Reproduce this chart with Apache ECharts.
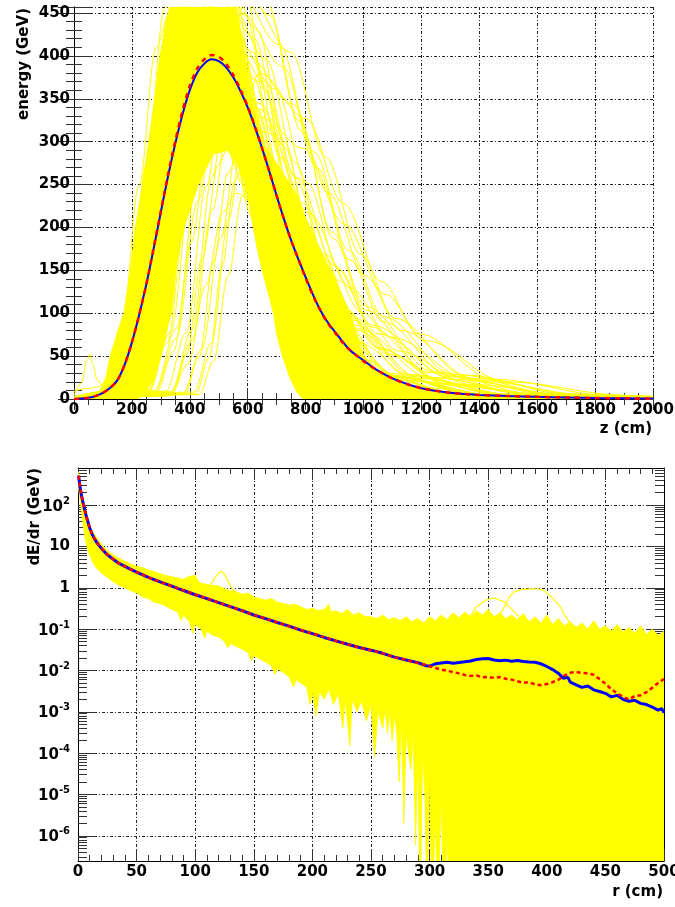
<!DOCTYPE html>
<html><head><meta charset="utf-8">
<script src="https://cdn.jsdelivr.net/npm/echarts@6/dist/echarts.min.js"></script>
<style>html,body{margin:0;padding:0;background:#fff}#c{width:675px;height:907px}</style>
</head><body><div id="c"></div>
<script>
// ---------- tick labels ----------
const zTicks = [0,200,400,600,800,1000,1200,1400,1600,1800,2000];
const energyTicks = [0,50,100,150,200,250,300,350,400,450];
const rTicks = [0,50,100,150,200,250,300,350,400,450,500];
const dEdrTicks = [1e-6,1e-5,1e-4,1e-3,1e-2,1e-1,1,10,100];
const dEdrMinor = [3e-7,4e-7,5e-7,6e-7,7e-7,8e-7,9e-7,
  2e-6,3e-6,4e-6,5e-6,6e-6,7e-6,8e-6,9e-6,
  2e-5,3e-5,4e-5,5e-5,6e-5,7e-5,8e-5,9e-5,
  2e-4,3e-4,4e-4,5e-4,6e-4,7e-4,8e-4,9e-4,
  2e-3,3e-3,4e-3,5e-3,6e-3,7e-3,8e-3,9e-3,
  0.02,0.03,0.04,0.05,0.06,0.07,0.08,0.09,
  0.2,0.3,0.4,0.5,0.6,0.7,0.8,0.9,
  2,3,4,5,6,7,8,9,20,30,40,50,60,70,80,90,200,300,400,500,600,700];

// ---------- top panel: longitudinal profiles (z [cm], energy [GeV]) ----------
const topMeanBlue = [[0,0],[25,0.5],[50,1.5],[75,3.5],[100,7],[125,13],[150,22],[175,40],[200,66],[225,98],[250,134],[275,175],[300,218],[325,260],[350,298],[375,332],[400,360],[425,380],[450,391],[475,396],[500,394],[525,387],[550,375],[575,359],[600,340],[625,317],[650,292],[675,265],[700,237],[725,210],[750,185],[775,163],[800,142],[825,122],[850,104],[875,90],[900,79],[925,68],[950,58],[975,51],[1000,45],[1050,33],[1100,24],[1150,17.5],[1200,12.5],[1250,9.5],[1300,7.2],[1350,5.8],[1400,4.7],[1500,3.4],[1600,2.5],[1700,1.8],[1800,1.2],[1900,0.8],[2000,0.5]];
const topMeanRed = [[0,0],[25,0.5],[50,1.5],[75,3.6],[100,7.2],[125,13],[150,22],[175,40],[200,66],[225,98],[250,134],[275,176],[300,219],[325,262],[350,301],[375,336],[400,365],[425,385],[450,396],[475,401],[500,399],[525,391],[550,378],[575,361],[600,341],[625,318],[650,292],[675,265],[700,237],[725,210],[750,185],[775,163],[800,141],[825,121],[850,104],[875,89],[900,78],[925,67],[950,58],[975,51],[1000,44],[1050,33],[1100,24],[1150,17.5],[1200,12.5],[1250,9.5],[1300,7.2],[1350,5.8],[1400,4.7],[1500,3.4],[1600,2.5],[1700,1.8],[1800,1.2],[1900,0.8],[2000,0.5]];
// outline of the region where the individual profiles overlap densely
const topDenseOutline = [[40,0],[60,3],[90,10],[110,25],[125,50],[150,78],[172,100],[195,150],[212,200],[236,250],[258,300],[278,350],[297,400],[318,440],[332,460],[560,460],[591,400],[615,350],[650,300],[700,275],[747,250],[816,200],[885,150],[955,100],[1000,50],[1060,30],[1110,20],[1230,10],[1320,5],[1450,2],[1550,0],[790,0],[770,8],[745,25],[720,50],[700,75],[689,100],[650,150],[620,200],[600,240],[570,270],[530,290],[480,285],[430,250],[380,200],[350,150],[335,100],[300,50],[270,20],[240,5],[220,0]];
const topShowers = [
 [[0,1],[104,9],[164,77],[224,248],[284,410],[330,450],[460,387],[565,270],[670,162],[775,90],[985,27],[1300,5],[1695,1.4],[2000,0.5]],
 [[0,1],[127,10],[189,85],[251,275],[313,455],[360,500],[478,430],[573,300],[668,180],[763,100],[953,30],[1238,6],[1595,1.5],[2000,0.4]],
 [[0,1],[117,9],[187,80],[257,259],[327,428],[380,470],[504,404],[604,282],[704,169],[804,94],[1004,28],[1304,5.6],[1680,1.4],[2000,0.5]],
 [[0,1],[137,10],[207,88],[277,286],[347,473],[400,520],[518,447],[613,312],[708,187],[803,104],[993,31],[1278,6.2],[1635,1.6],[2000,0.5]],
 [[0,1],[138,10],[213,82],[288,264],[363,437],[420,480],[544,413],[644,288],[744,173],[844,96],[1044,29],[1344,5.8],[1720,1.4],[2000,0.5]],
 [[0,1],[159,11],[231,92],[303,297],[375,491],[430,540],[542,464],[632,324],[722,194],[812,108],[992,32],[1262,6.5],[1600,1.6],[2000,0.5]],
 [[0,1],[139,9],[219,73],[299,237],[379,391],[440,430],[570,370],[675,258],[780,155],[885,86],[1095,26],[1410,5.2],[1805,1.3],[2000,0.8]],
 [[0,1],[157,10],[235,85],[313,275],[391,455],[450,500],[568,430],[663,300],[758,180],[853,100],[1043,30],[1328,6],[1685,1.5],[2000,0.5]],
 [[0,1],[152,9],[234,78],[316,253],[398,419],[460,460],[584,396],[684,276],[784,166],[884,92],[1084,28],[1384,5.5],[1760,1.4],[2000,0.6]],
 [[0,1],[150,8],[235,70],[320,226],[405,373],[470,410],[600,353],[705,246],[810,148],[915,82],[1125,25],[1440,4.9],[1835,1.2],[2000,0.8]],
 [[0,1],[179,10],[259,88],[339,286],[419,473],[480,520],[592,447],[682,312],[772,187],[862,104],[1042,31],[1312,6.2],[1650,1.6],[2000,0.5]],
 [[0,1],[170,9],[255,75],[340,242],[425,400],[490,440],[614,378],[714,264],[814,158],[914,88],[1114,26],[1414,5.3],[1790,1.3],[2000,0.7]],
 [[0,1],[180,9],[265,80],[350,259],[435,428],[500,470],[618,404],[713,282],[808,169],[903,94],[1093,28],[1378,5.6],[1735,1.4],[2000,0.6]],
 [[0,1],[190,8],[275,68],[360,220],[445,364],[510,400],[646,344],[756,240],[866,144],[976,80],[1196,24],[1526,4.8],[2000,1]],
 [[0,1],[219,10],[299,85],[379,275],[459,455],[520,500],[634,430],[726,300],[818,180],[910,100],[1094,30],[1370,6],[1716,1.5],[2000,0.5]],
 [[0,1],[229,9],[309,73],[389,237],[469,391],[530,430],[660,370],[765,258],[870,155],[975,86],[1185,26],[1500,5.2],[1895,1.3],[2000,1]],
 [[0,1],[258,9],[333,78],[408,253],[483,419],[540,460],[664,396],[764,276],[864,166],[964,92],[1164,28],[1464,5.5],[1840,1.4],[2000,0.9]],
 [[0,1],[278,8],[353,71],[428,231],[503,382],[560,420],[696,361],[806,252],[916,151],[1026,84],[1246,25],[1576,5],[2000,1.2]],
 [[0,1],[317,9],[387,77],[457,248],[527,410],[580,450],[723,387],[838,270],[953,162],[1068,90],[1298,27],[1643,5.4],[2000,1.5]],
 [[0,1],[337,8],[407,68],[477,220],[547,364],[600,400],[755,344],[880,240],[1005,144],[1130,80],[1380,24],[1755,4.8],[2000,1.5]],
 [[0,0.5],[376,7],[441,58],[506,187],[571,309],[620,340],[794,292],[934,204],[1074,122],[1214,68],[1494,20],[1914,4.1],[2000,3]],
 [[0,0.5],[333,6],[388,51],[443,165],[498,273],[540,300],[689,258],[809,180],[929,108],[1049,60],[1289,18],[1649,3.6],[2000,0.9]],
 [[0,0.5],[300,3],[382,6],[432,49],[482,160],[532,264],[570,290],[713,249],[828,174],[943,104],[1058,58],[1288,17],[1633,3.5],[2000,0.9]],
 [[0,0.5],[284,7],[344,56],[404,182],[464,300],[510,330],[646,284],[756,198],[866,119],[976,66],[1196,20],[1526,4],[2000,1]],
 [[0,3],[93,7],[188,61],[283,198],[378,328],[450,360],[586,310],[696,216],[806,130],[916,72],[1136,22],[1466,4.3],[2000,1]],
 [[0,2],[82,8],[172,65],[262,209],[352,346],[420,380],[525,327],[610,228],[695,137],[780,76],[950,23],[1205,4.6],[1525,1.1],[2000,0.3]],
 [[0,2],[84,7],[184,58],[284,187],[384,309],[460,340],[565,292],[650,204],[735,122],[820,68],[990,20],[1245,4.1],[1565,1],[2000,0.3]],
 [[0,1],[142,7],[232,60],[322,193],[412,319],[480,350],[579,301],[659,210],[739,126],[819,70],[979,21],[1219,4.2],[1520,1],[2000,0.3]],
 [[0,1],[118,8],[193,71],[268,231],[343,382],[400,420],[499,361],[579,252],[659,151],[739,84],[899,25],[1139,5],[1440,1.3],[2000,0.3]],
 [[0,0.5],[256,8],[321,65],[386,209],[451,346],[500,380],[661,327],[791,228],[921,137],[1051,76],[1311,23],[1701,4.6],[2000,1.2]],
 [[0,1],[177,11],[247,95],[317,308],[387,510],[440,560],[549,482],[637,336],[725,202],[813,112],[989,34],[1253,6.7],[1584,1.7],[2000,0.5]],
 [[0,1],[188,12],[263,102],[338,330],[413,546],[470,600],[575,516],[660,360],[745,216],[830,120],[1000,36],[1255,7.2],[1575,1.8],[2000,0.5]],
 [[0,4],[25,18],[45,45],[55,52],[65,40],[80,22],[100,15],[130,20],[170,50],[210,120],[250,220],[290,320],[340,400],[390,430],[440,410],[520,330],[620,210],[720,120],[820,62],[1000,18],[1300,3],[2000,0.5]],
 [[0,0.3],[421,6],[466,48],[511,154],[556,255],[590,280],[745,241],[870,168],[995,101],[1120,56],[1370,17],[1745,3.4],[2000,1]],
 [[0,1],[166,9],[231,80],[296,259],[361,428],[410,470],[534,404],[634,282],[734,169],[834,94],[1034,28],[1334,5.6],[1710,1.4],[2000,0.5]],
 [[0,1],[208,10],[283,83],[358,270],[433,446],[490,490],[620,421],[725,294],[830,176],[935,98],[1145,29],[1460,5.9],[1855,1.5],[2000,1]],
 [[0,9],[40,12],[80,14],[120,22],[170,60],[220,160],[270,280],[320,380],[370,430],[420,440],[480,410],[560,330],[660,215],[760,125],[860,68],[1060,20],[1360,4],[2000,0.5]],
 [[0,1],[278,10],[353,82],[428,264],[503,437],[560,480],[709,413],[829,288],[949,173],[1069,96],[1309,29],[1669,5.8],[2000,1.5]],
 [[0,1],[257,11],[327,92],[397,297],[467,491],[520,540],[663,464],[778,324],[893,194],[1008,108],[1238,32],[1583,6.5],[2000,1.5]],
 [[0,1],[337,9],[407,80],[477,259],[547,428],[600,470],[749,404],[869,282],[989,169],[1109,94],[1349,28],[1709,5.6],[2000,2]],
 [[0,1],[160,9],[245,73],[330,237],[415,391],[480,430],[641,370],[771,258],[901,155],[1031,86],[1291,26],[1681,5.2],[2000,1.5]],
 [[0,0.5],[414,8],[474,65],[534,209],[594,346],[640,380],[801,327],[931,228],[1061,137],[1191,76],[1451,23],[1841,4.6],[2000,3]],
 [[0,1],[239,10],[319,88],[399,286],[479,473],[540,520],[676,447],[786,312],[896,187],[1006,104],[1226,31],[1556,6.2],[2000,1.2]],
 [[0,1],[162,7],[252,61],[342,198],[432,328],[500,360],[674,310],[814,216],[954,130],[1094,72],[1374,22],[1794,4.3],[2000,2]],
 [[0,1],[149,8],[229,70],[309,226],[389,373],[450,410],[605,353],[730,246],[855,148],[980,82],[1230,25],[1605,4.9],[2000,1.2]],
 [[0,0.3],[432,5],[482,44],[532,143],[582,237],[620,260],[756,224],[866,156],[976,94],[1086,52],[1306,16],[1636,3],[2000,0.8]],
 [[0,0.3],[334,5],[394,41],[454,132],[514,218],[560,240],[684,206],[784,144],[884,86],[984,48],[1184,14],[1484,3],[2000,0.5]]
];

// ---------- bottom panel: lateral profiles (r [cm], dE/dr [GeV]) ----------
const bottomMeanBlue = [[0.5,520],[1,400],[2,250],[3,170],[4,125],[5,95],[6,72],[7,55],[8,44],[10,28],[12,20],[14,15.5],[16,12.5],[18,10.5],[20,9],[25,6.3],[30,4.9],[35,3.9],[40,3.3],[45,2.8],[50,2.4],[60,1.8],[70,1.4],[80,1.1],[90,0.86],[100,0.68],[110,0.55],[120,0.44],[130,0.35],[140,0.28],[150,0.22],[160,0.18],[170,0.145],[180,0.118],[190,0.095],[200,0.078],[210,0.063],[220,0.052],[230,0.043],[240,0.036],[250,0.031],[260,0.026],[270,0.021],[280,0.018],[290,0.0155],[297,0.013],[300,0.0128],[305,0.0145],[310,0.0152],[315,0.0158],[320,0.015],[325,0.0155],[330,0.0162],[335,0.017],[340,0.0185],[345,0.0192],[350,0.0195],[355,0.018],[360,0.0172],[365,0.0178],[370,0.0168],[375,0.0175],[380,0.0165],[385,0.016],[390,0.0158],[395,0.0145],[400,0.0125],[405,0.0105],[410,0.0085],[414,0.0065],[418,0.0068],[420,0.0052],[425,0.0045],[430,0.0039],[435,0.0042],[440,0.0034],[445,0.0031],[450,0.0028],[455,0.0023],[460,0.0025],[465,0.002],[470,0.0018],[475,0.0019],[480,0.0016],[485,0.0015],[490,0.0013],[495,0.0011],[498,0.0012],[500,0.00095]];
const bottomMeanRed = [[0.5,520],[1,400],[2,250],[3,172],[4,126],[5,96],[6,73],[7,56],[8,44],[10,28],[12,20],[14,15.6],[16,12.6],[18,10.5],[20,9.1],[25,6.4],[30,4.9],[35,3.9],[40,3.3],[45,2.8],[50,2.4],[60,1.8],[70,1.4],[80,1.1],[90,0.87],[100,0.69],[110,0.55],[120,0.44],[130,0.35],[140,0.28],[150,0.22],[160,0.18],[170,0.146],[180,0.118],[190,0.095],[200,0.078],[210,0.064],[220,0.052],[230,0.043],[240,0.036],[250,0.031],[260,0.026],[270,0.021],[280,0.018],[290,0.0152],[297,0.0135],[305,0.0115],[310,0.0105],[315,0.0098],[320,0.0092],[325,0.0085],[330,0.0078],[335,0.0074],[340,0.0076],[345,0.0068],[350,0.007],[355,0.0066],[360,0.0069],[365,0.0063],[370,0.006],[375,0.0055],[380,0.005],[385,0.0052],[390,0.0046],[395,0.0044],[400,0.0047],[405,0.0052],[410,0.006],[415,0.0075],[420,0.0088],[425,0.0092],[430,0.0087],[435,0.0085],[440,0.0079],[445,0.0062],[450,0.0048],[455,0.0035],[460,0.0028],[465,0.0023],[470,0.002],[475,0.0024],[480,0.0025],[485,0.003],[490,0.0038],[495,0.005],[500,0.0062]];
const bandUpper = [[0,650],[1,480],[2,300],[3,210],[4,155],[5,120],[6,90],[8,55],[10,34],[12,25],[15,18],[18,13.5],[20,11.5],[25,8],[30,6.3],[35,5.2],[40,4.4],[45,3.8],[50,3.3],[55,3.1],[60,2.7],[65,2.5],[70,2.2],[75,2.0],[80,1.85],[85,1.75],[90,1.6],[95,1.9],[100,2.0],[103,1.4],[105,1.3],[110,1.2],[115,1.15],[120,1.1],[125,0.95],[130,0.85],[135,0.8],[140,0.7],[145,0.75],[150,0.6],[155,0.55],[160,0.5],[165,0.55],[170,0.45],[175,0.42],[180,0.38],[185,0.4],[190,0.35],[195,0.3],[200,0.32],[205,0.28],[210,0.3],[214,0.4],[216,0.26],[220,0.28],[225,0.24],[230,0.3],[235,0.22],[240,0.25],[245,0.2],[250,0.2],[255,0.18],[260,0.22],[265,0.17],[270,0.19],[275,0.16],[280,0.2],[285,0.15],[290,0.18],[295,0.14],[300,0.2],[305,0.16],[310,0.22],[315,0.17],[320,0.25],[325,0.19],[330,0.26],[335,0.2],[340,0.28],[345,0.22],[350,0.3],[355,0.2],[360,0.25],[365,0.18],[370,0.22],[375,0.17],[380,0.24],[385,0.15],[390,0.2],[395,0.14],[400,0.22],[405,0.13],[410,0.18],[415,0.12],[420,0.15],[425,0.11],[430,0.14],[435,0.1],[440,0.16],[445,0.1],[450,0.12],[455,0.09],[460,0.13],[465,0.085],[470,0.11],[475,0.08],[480,0.12],[485,0.075],[490,0.1],[495,0.07],[500,0.09]];
const bandLower = [[0,300],[1,200],[2,120],[3,70],[4,40],[5,25],[6,16],[8,9],[10,6],[12,4.5],[15,3.2],[18,2.6],[20,2.3],[25,1.8],[30,1.4],[35,1.15],[40,1.0],[45,0.85],[50,0.75],[55,0.6],[60,0.55],[65,0.45],[70,0.42],[75,0.36],[80,0.3],[85,0.26],[88,0.16],[90,0.22],[95,0.15],[98,0.08],[100,0.13],[105,0.1],[108,0.06],[110,0.09],[115,0.07],[120,0.065],[125,0.05],[128,0.035],[130,0.045],[135,0.038],[140,0.033],[145,0.027],[148,0.017],[150,0.023],[155,0.019],[160,0.016],[165,0.013],[168,0.008],[170,0.011],[175,0.009],[180,0.007],[184,0.004],[186,0.006],[190,0.005],[195,0.004],[198,0.0015],[200,0.003],[203,0.0008],[206,0.003],[210,0.002],[214,0.0035],[218,0.0015],[222,0.0028],[226,0.0004],[228,0.002],[232,0.00015],[234,0.002],[238,0.001],[242,0.0018],[246,0.0006],[250,0.0014],[253,0.00008],[256,0.001],[260,0.0004],[262,0.0012],[264,0.0003],[266,0.001],[268,0.0002],[270,0.0008],[272,0.0003],[274,0.00002],[276,0.0006],[278,0.000002],[280,0.0003],[282,0.0001],[284,0.00004],[286,0.0003],[288,0.0000006],[290,0.00008],[292,1e-8],[294,0.0001],[296,0.00001],[298,1e-8],[300,0.00004],[302,1e-8],[305,0.000003],[307,1e-8],[310,0.00001],[312,1e-8],[315,0.000001],[317,1e-8],[500,1e-8]];
const bottomBumps = [
 [[100,1.0],[105,1.1],[110,1.0],[114,1.3],[117,1.8],[120,2.3],[122,2.5],[124,2.3],[127,1.7],[130,1.1],[134,0.8],[140,0.65]],
 [[320,0.12],[325,0.15],[330,0.14],[335,0.22],[340,0.35],[344,0.42],[348,0.5],[352,0.55],[356,0.57],[360,0.5],[364,0.45],[368,0.35],[372,0.27],[376,0.2],[380,0.15],[386,0.1],[392,0.08]],
 [[355,0.15],[360,0.22],[364,0.35],[368,0.6],[372,0.8],[378,0.9],[384,0.93],[390,0.95],[396,0.9],[400,0.75],[404,0.6],[408,0.45],[412,0.33],[416,0.2],[420,0.14],[426,0.1]]
];

// ---------- styling ----------
const FONT = 'DejaVu Sans';
const YELLOW = '#ffff00';
const gridLine = { show: true, lineStyle: { color: '#222', width: 1, type: [3, 2, 1, 2] } };
const axisLineStyle = { show: true, lineStyle: { color: '#000', width: 1 } };
const labelStyle = { fontFamily: FONT, fontWeight: 'bold', fontSize: 15, color: '#000', formatter: function (v) { return String(v); } };

function linAxis(extra) {
  return Object.assign({
    type: 'value', axisLine: axisLineStyle, splitLine: { show: false },
    axisTick: { show: true, inside: true, length: 11, lineStyle: { color: '#333' } },
    minorTick: { show: true, splitNumber: 4, length: 6, lineStyle: { color: '#333' } },
    axisLabel: { show: false }
  }, extra);
}

function logLabel(v) {
  const e = Math.round(Math.log10(v));
  if (e === 0) return '{b|1}';
  if (e === 1) return '{b|10}';
  return '{b|10}{s|' + e + '}';
}
const logRich = {
  b: { fontFamily: FONT, fontWeight: 'bold', fontSize: 15, color: '#000', verticalAlign: 'bottom' },
  s: { fontFamily: FONT, fontWeight: 'bold', fontSize: 10, color: '#000', verticalAlign: 'bottom', padding: [0, 0, 8, 0] }
};
const LOGMIN = 2.45e-7, LOGMAX = 794;
function logAxis(extra) {
  return Object.assign({
    type: 'log', logBase: 10, min: LOGMIN, max: LOGMAX, gridIndex: 1, splitNumber: 10,
    axisLine: axisLineStyle, splitLine: { show: false },
    axisLabel: { show: false }
  }, extra);
}

function polygonItem(points, color) {
  return function (params, api) {
    if (params.dataIndex !== 0) return null;
    const pts = points.map(function (p) { return api.coord(p); });
    return { type: 'polygon', shape: { points: pts }, style: { fill: color, stroke: color, lineWidth: 0.8 } };
  };
}

const series = [];
series.push({ type: 'custom', xAxisIndex: 0, yAxisIndex: 0, clip: true, silent: true, z: 2,
  data: topDenseOutline, encode: { x: 0, y: 1 }, renderItem: polygonItem(topDenseOutline, YELLOW) });
topShowers.forEach(function (pts) {
  series.push({ type: 'line', xAxisIndex: 0, yAxisIndex: 0, data: pts, symbol: 'none', smooth: 0.35,
    smoothMonotone: 'x', lineStyle: { color: YELLOW, width: 1 }, silent: true, z: 2 });
});
series.push({ type: 'line', xAxisIndex: 0, yAxisIndex: 0, data: topMeanBlue, symbol: 'none', smooth: 0.3,
  lineStyle: { color: '#0000ff', width: 2 }, z: 3 });
series.push({ type: 'line', xAxisIndex: 0, yAxisIndex: 0, data: topMeanRed, symbol: 'none', smooth: 0.3,
  lineStyle: { color: '#ff0000', width: 2.5, type: [5, 5] }, z: 4 });

const bandOutline = bandUpper.concat(bandLower.slice().reverse());
series.push({ type: 'custom', xAxisIndex: 2, yAxisIndex: 2, clip: true, silent: true, z: 2,
  data: bandUpper, encode: { x: 0, y: 1 }, renderItem: polygonItem(bandOutline, YELLOW) });
bottomBumps.forEach(function (pts) {
  series.push({ type: 'line', xAxisIndex: 2, yAxisIndex: 2, data: pts, symbol: 'none',
    lineStyle: { color: YELLOW, width: 1.2 }, silent: true, z: 2 });
});
series.push({ type: 'line', xAxisIndex: 2, yAxisIndex: 2, data: bottomMeanBlue, symbol: 'none',
  lineStyle: { color: '#0000ff', width: 3 }, z: 3 });
series.push({ type: 'line', xAxisIndex: 2, yAxisIndex: 2, data: bottomMeanRed, symbol: 'none',
  lineStyle: { color: '#ff0000', width: 2.5, type: [4, 3] }, z: 4 });

const chart = echarts.init(document.getElementById('c'), null, { renderer: 'canvas' });
chart.setOption({
  animation: false,
  backgroundColor: '#fff',
  grid: [
    { left: 74, top: 7, width: 579, height: 392, containLabel: false, outerBoundsMode: 'none' },
    { left: 78, top: 468, width: 586, height: 393, containLabel: false, outerBoundsMode: 'none' }
  ],
  xAxis: [
    linAxis({ gridIndex: 0, position: 'bottom', min: 0, max: 2000, interval: 200, splitLine: gridLine,
      axisLabel: Object.assign({ show: true, margin: 4, customValues: zTicks }, labelStyle) }),
    linAxis({ gridIndex: 0, position: 'top', min: 0, max: 2000, interval: 200 }),
    linAxis({ gridIndex: 1, position: 'bottom', min: 0, max: 500, interval: 50, splitLine: gridLine,
      axisTick: { show: true, inside: true, length: 12, lineStyle: { color: '#333' } },
      minorTick: { show: true, splitNumber: 5, length: 6, lineStyle: { color: '#333' } },
      axisLabel: Object.assign({ show: true, margin: 4, customValues: rTicks }, labelStyle) }),
    linAxis({ gridIndex: 1, position: 'top', min: 0, max: 500, interval: 50,
      axisTick: { show: true, inside: true, length: 12, lineStyle: { color: '#333' } },
      minorTick: { show: true, splitNumber: 5, length: 6, lineStyle: { color: '#333' } } })
  ],
  yAxis: [
    linAxis({ gridIndex: 0, position: 'left', min: 0, max: 457, interval: 50, splitLine: gridLine,
      axisTick: { show: true, inside: true, length: 16, lineStyle: { color: '#333' } },
      minorTick: { show: true, splitNumber: 5, length: 8, lineStyle: { color: '#333' } },
      axisLabel: Object.assign({ show: true, margin: 4, customValues: energyTicks }, labelStyle) }),
    linAxis({ gridIndex: 0, position: 'right', min: 0, max: 457, interval: 50,
      axisTick: { show: true, inside: true, length: 16, lineStyle: { color: '#333' } },
      minorTick: { show: true, splitNumber: 5, length: 8, lineStyle: { color: '#333' } } }),
    logAxis({ position: 'left', splitLine: gridLine,
      axisTick: { show: true, inside: true, length: 18, customValues: dEdrTicks, lineStyle: { color: '#333' } },
      axisLabel: { show: true, margin: 8, customValues: dEdrTicks, formatter: logLabel, rich: logRich } }),
    logAxis({ position: 'left', axisLine: { show: false },
      axisTick: { show: true, inside: true, length: 9, customValues: dEdrMinor, lineStyle: { color: '#333' } } }),
    logAxis({ position: 'right',
      axisTick: { show: true, inside: true, length: 18, customValues: dEdrTicks, lineStyle: { color: '#333' } } }),
    logAxis({ position: 'right', axisLine: { show: false },
      axisTick: { show: true, inside: true, length: 9, customValues: dEdrMinor, lineStyle: { color: '#333' } } })
  ],
  graphic: [
    { type: 'text', x: 24.5, y: 8, rotation: Math.PI / 2,
      style: { text: 'energy (GeV)', fontFamily: FONT, fontWeight: 'bold', fontSize: 15, fill: '#000', align: 'right', verticalAlign: 'middle' } },
    { type: 'text', x: 652, y: 429,
      style: { text: 'z (cm)', fontFamily: FONT, fontWeight: 'bold', fontSize: 15, fill: '#000', align: 'right', verticalAlign: 'middle' } },
    { type: 'text', x: 35, y: 468, rotation: Math.PI / 2,
      style: { text: 'dE/dr (GeV)', fontFamily: FONT, fontWeight: 'bold', fontSize: 15, fill: '#000', align: 'right', verticalAlign: 'middle' } },
    { type: 'text', x: 663, y: 892.5,
      style: { text: 'r (cm)', fontFamily: FONT, fontWeight: 'bold', fontSize: 15, fill: '#000', align: 'right', verticalAlign: 'middle' } }
  ],
  series: series
});
</script></body></html>
